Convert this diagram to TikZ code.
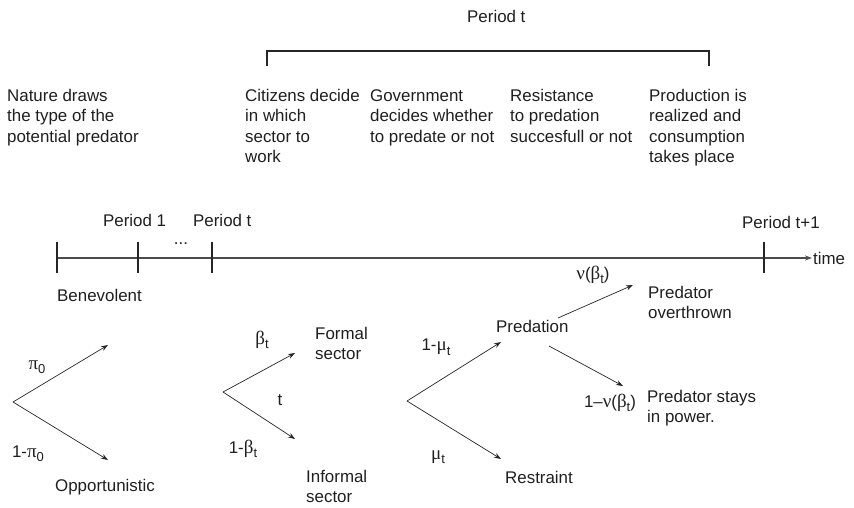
\documentclass[tikz,border=0pt]{standalone}
\usepackage{fontspec}
\setmainfont{Liberation Sans}
\newfontfamily\grf{Liberation Serif}
\newcommand\gr{\grf\fontsize{19}{20.5}\selectfont}
\usetikzlibrary{arrows.meta}
\newcommand\sbs[1]{\raisebox{-0.5ex}{\fontsize{13}{13}\selectfont #1}}
\begin{document}
\begin{tikzpicture}[x=1pt,y=-1pt,
  txt/.style={anchor=north west,inner sep=0pt,align=left,font=\fontsize{16.9}{20.5}\selectfont,text=black!88},
  lbl/.style={inner sep=0pt,font=\fontsize{16.9}{20.5}\selectfont,text=black!88},
  arr/.style={draw=black!85,line width=0.7pt,-{Stealth[length=7pt,width=5pt]}},
  axis/.style={draw=black!70,line width=1.1pt},
  tick/.style={draw=black!85,line width=1.4pt}]
\useasboundingbox (0,0) rectangle (854,507);
% header
\node[txt] (pt) at (467,10) {Period t};
\coordinate (bl) at (267,66); \coordinate (blt) at (267,51);
\coordinate (br) at (709,66); \coordinate (brt) at (709,51);
\draw[tick,line width=1.3pt] (bl) -- (blt) -- (brt) -- (br);
\node[txt] (nat) at (7,89) {Nature draws\\the type of the\\potential predator};
\node[txt] (cit) at (245,89) {Citizens decide\\in which\\sector to\\work};
\node[txt] (gov) at (370,89) {Government\\decides whether\\to predate or not};
\node[txt] (res) at (510,89) {Resistance\\to predation\\succesfull or not};
\node[txt] (pro) at (649,89) {Production is\\realized and\\consumption\\takes place};
% timeline
\coordinate (t0) at (57,258); \coordinate (tend) at (812,258);
\draw[axis,-{Stealth[length=7pt,width=5pt]}] (t0) -- (tend);
\coordinate (k0a) at (57,242); \coordinate (k0b) at (57,273);
\coordinate (k1a) at (138,242); \coordinate (k1b) at (138,273);
\coordinate (k2a) at (212,242); \coordinate (k2b) at (212,273);
\coordinate (k3a) at (764,242); \coordinate (k3b) at (764,273);
\draw[tick] (k0a) -- (k0b);
\draw[tick] (k1a) -- (k1b);
\draw[tick] (k2a) -- (k2b);
\draw[tick] (k3a) -- (k3b);
\node[txt] (p1) at (103,214) {Period 1};
\node[txt] (ptt) at (193,214) {Period t};
\node[txt] (pt1) at (742,216) {Period t+1};
\node[lbl] (dots) at (181,244) {...};
\node[lbl,anchor=west] (time) at (813,258) {time};
\node[txt] (ben) at (57,289) {Benevolent};
% tree 1
\coordinate (r1) at (13,402); \coordinate (a1) at (108,345); \coordinate (b1) at (108,460);
\draw[arr] (r1) -- (a1);
\draw[arr] (r1) -- (b1);
\node[lbl] (pi0) at (37,367) {{\gr π}\sbs{0}};
\node[lbl] (pi1) at (28,454) {1-{\gr π}\sbs{0}};
\node[txt] (opp) at (55,479) {Opportunistic};
% tree 2
\coordinate (r2) at (223,392); \coordinate (a2) at (295,353); \coordinate (b2) at (295,439);
\draw[arr] (r2) -- (a2);
\draw[arr] (r2) -- (b2);
\node[lbl] (be) at (262,340) {{\gr β}\sbs{t}};
\node[lbl] (tt) at (280,400) {t};
\node[lbl] (be1) at (243,449) {1-{\gr β}\sbs{t}};
\node[txt] (form) at (315,327) {Formal\\sector};
\node[txt] (inf) at (306,470) {Informal\\sector};
% tree 3
\coordinate (r3) at (407,401); \coordinate (a3) at (501,342); \coordinate (b3) at (501,459);
\draw[arr] (r3) -- (a3);
\draw[arr] (r3) -- (b3);
\node[lbl] (mu1) at (436,347) {1-{\gr μ}\sbs{t}};
\node[lbl] (mu) at (438,457) {{\gr μ}\sbs{t}};
\node[txt] (pred) at (496,320) {Predation};
\node[txt] (rest) at (505,471) {Restraint};
% predation branches
\coordinate (pu) at (558,318); \coordinate (pue) at (633,285);
\coordinate (pd) at (549,346); \coordinate (pde) at (623,386);
\draw[arr] (pu) -- (pue);
\draw[arr] (pd) -- (pde);
\node[lbl] (nu) at (593,275) {{\gr ν}({\gr β}\sbs{t})};
\node[lbl] (nu1) at (610,403) {1–{\gr ν}({\gr β}\sbs{t})};
\node[txt] (over) at (648,286) {Predator\\overthrown};
\node[txt] (stay) at (647,390) {Predator stays\\in power.};
\end{tikzpicture}
\end{document}
